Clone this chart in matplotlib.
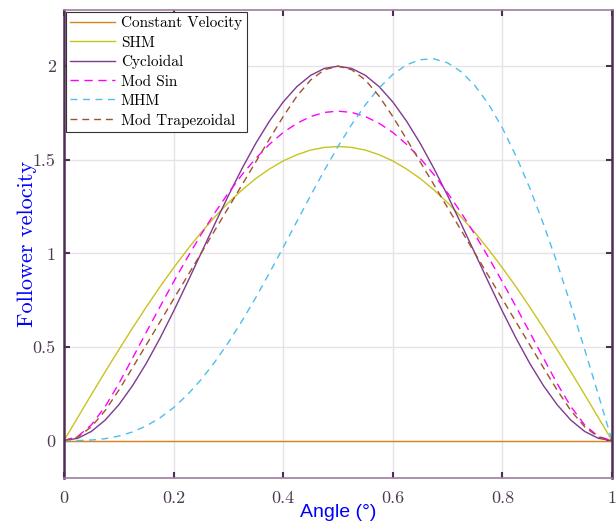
import numpy as np
import matplotlib.pyplot as plt

# angle (normalised) sampled every 0.025
angle = np.linspace(0, 1, 41)

const_vel = [0.0] * 41

shm_half = [0.000, 0.123, 0.246, 0.367, 0.485, 0.601, 0.713, 0.821, 0.923, 1.020,
            1.111, 1.194, 1.271, 1.339, 1.400, 1.451, 1.494, 1.527, 1.552, 1.566, 1.571]
shm = shm_half + shm_half[-2::-1]

cyc_half = [0.000, 0.012, 0.049, 0.109, 0.191, 0.293, 0.412, 0.546, 0.691, 0.844,
            1.000, 1.156, 1.309, 1.454, 1.588, 1.707, 1.809, 1.891, 1.951, 1.988, 2.000]
cycloidal = cyc_half + cyc_half[-2::-1]

msin_half = [0.000, 0.022, 0.084, 0.181, 0.304, 0.440, 0.578, 0.714, 0.848, 0.977,
             1.100, 1.216, 1.323, 1.421, 1.508, 1.583, 1.646, 1.695, 1.731, 1.753, 1.760]
mod_sin = msin_half + msin_half[-2::-1]

mhm = [0.000, 0.000, 0.003, 0.010, 0.024, 0.046, 0.078, 0.121, 0.176, 0.244,
       0.325, 0.419, 0.524, 0.640, 0.764, 0.896, 1.032, 1.171, 1.309, 1.443,
       1.571, 1.689, 1.794, 1.884, 1.956, 2.007, 2.035, 2.039, 2.018, 1.970,
       1.896, 1.796, 1.670, 1.519, 1.349, 1.156, 0.947, 0.723, 0.488, 0.246, 0.000]

mtrap_half = [0.000, 0.019, 0.074, 0.160, 0.269, 0.389, 0.511, 0.633, 0.756, 0.878,
              1.000, 1.122, 1.244, 1.367, 1.489, 1.611, 1.731, 1.840, 1.926, 1.981, 2.000]
mod_trap = mtrap_half + mtrap_half[-2::-1]

yticks = [0, 0.5, 1, 1.5, 2]
xticks = [0, 0.2, 0.4, 0.6, 0.8, 1]

axis_col = '#4f2d55'
serif = 'cmr10'

fig = plt.figure(figsize=(6.16, 5.29), dpi=100)
ax = fig.add_axes([0.1039, 0.0964, 0.8896, 0.8846])

ax.plot(angle, const_vel, color='#d9821e', lw=1.0, label='Constant Velocity')
ax.plot(angle, shm, color='#c8c41e', lw=1.0, label='SHM')
ax.plot(angle, cycloidal, color='#7e3a8e', lw=1.0, label='Cycloidal')
ax.plot(angle, mod_sin, color='#ff00ff', lw=1.0, dashes=(6, 4), label='Mod Sin')
ax.plot(angle, mhm, color='#4dbeee', lw=1.0, dashes=(5, 4), label='MHM')
ax.plot(angle, mod_trap, color='#a0522d', lw=1.0, dashes=(5, 3.5), label='Mod Trapezoidal')

ax.set_xlim(0, 1)
ax.set_ylim(-0.2, 2.3)
ax.set_xticks(xticks)
ax.set_yticks(yticks)
ax.set_xticklabels([f'{t:g}' for t in xticks], fontfamily=serif, fontsize=13)
ax.set_yticklabels([f'{t:g}' for t in yticks], fontfamily=serif, fontsize=13)
ax.tick_params(direction='in', length=4, width=1.5, color=axis_col, labelcolor='#4f3a55',
               top=True, right=True)
ax.tick_params(axis='x', pad=9)
ax.tick_params(axis='y', pad=6)
ax.grid(True, color='#e6e2e6', lw=1.0)
ax.set_axisbelow(True)

for side in ['left', 'right']:
    ax.spines[side].set_color(axis_col)
    ax.spines[side].set_linewidth(1.8)
for side in ['top', 'bottom']:
    ax.spines[side].set_color('#9c7fa0')
    ax.spines[side].set_linewidth(1.2)

ax.set_xlabel('Angle (°)', color='blue', fontsize=14, fontfamily='Liberation Sans', labelpad=-1)
ax.set_ylabel('Follower velocity', color='blue', fontsize=16, fontfamily=serif, labelpad=-3)

leg = ax.legend(loc='upper left', prop={'family': serif, 'size': 11}, fancybox=False,
                framealpha=1, edgecolor='#333333', borderaxespad=0.1, handlelength=2.9,
                labelspacing=0.36, borderpad=0.32, handletextpad=0.4)
leg.get_frame().set_linewidth(0.8)

fig.savefig('out.png', dpi=100)
